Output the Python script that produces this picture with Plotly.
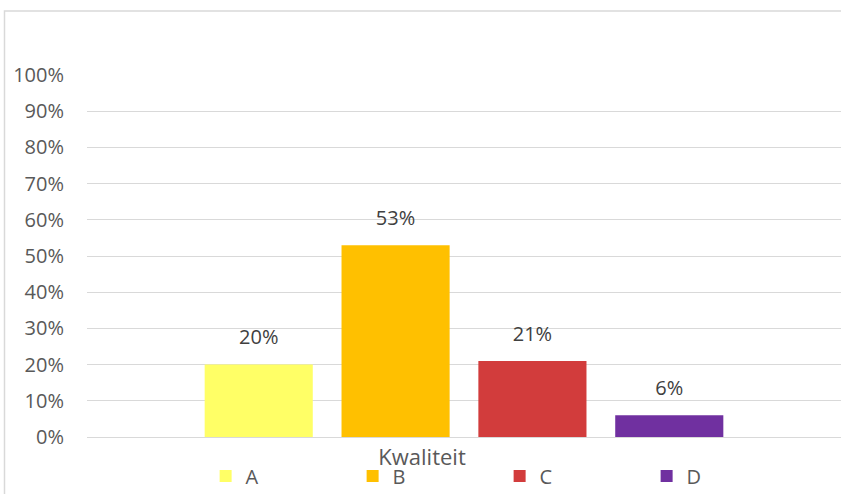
import plotly.graph_objects as go

# ---- data ----
category = ["Kwaliteit"]
series_names = ["A", "B", "C", "D"]
series_values = [0.20, 0.53, 0.21, 0.06]
series_colors = ["#FFFF66", "#FFC000", "#D23C3C", "#7030A0"]
y_ticks = [0, 0.1, 0.2, 0.3, 0.4, 0.5, 0.6, 0.7, 0.8, 0.9, 1.0]
y_tick_labels = ["0%", "10%", "20%", "30%", "40%", "50%", "60%", "70%", "80%", "90%", "100%"]

W, H = 841, 494
ML, MR, MT, MB = 87, 0, 75, 57
FONT = "Open Sans, Liberation Sans, sans-serif"
BARGAP = 0.274
LABEL_PAD = 0.07  # gap between bar top and its value label (data units)

fig = go.Figure()
for name, v, c in zip(series_names, series_values, series_colors):
    fig.add_trace(go.Bar(
        x=category, y=[v], name=name, marker=dict(color=c, line=dict(width=0)),
        offsetgroup=name, hoverinfo="skip",
    ))
for name, v in zip(series_names, series_values):
    fig.add_trace(go.Scatter(
        x=category, y=[v + LABEL_PAD], mode="text", text=[f"{round(v*100)}%"],
        textposition="middle center", offsetgroup=name, showlegend=False,
        textfont=dict(family=FONT, size=20, color="#404040"), hoverinfo="skip",
        cliponaxis=False,
    ))

# outer chart border (left and top)
pw = W - ML - MR
ph = H - MT - MB
def px_x(p):
    return (p - ML) / pw
def px_y(p):
    return (H - MB - p) / ph
fig.add_shape(type="path", xref="paper", yref="paper",
              path=f"M {px_x(4.5)} {px_y(494)} L {px_x(4.5)} {px_y(11)} L {px_x(841)} {px_y(11)}",
              line=dict(color="#D9D9D9", width=1.5))

fig.update_layout(
    width=W, height=H,
    margin=dict(l=ML, r=MR, t=MT, b=MB, autoexpand=False),
    paper_bgcolor="white", plot_bgcolor="white",
    barmode="group", bargap=BARGAP, bargroupgap=0.21,
    scattermode="group", scattergap=BARGAP,
    font=dict(family=FONT, color="#595959"),
    showlegend=True,
    legend=dict(
        orientation="h", xref="container", yref="container",
        x=0.2445, y=(H - 476) / H, xanchor="left", yanchor="middle",
        entrywidth=102, entrywidthmode="pixels",
        font=dict(family=FONT, size=20, color="#595959"),
        bgcolor="rgba(0,0,0,0)", itemclick=False, itemdoubleclick=False,
    ),
    xaxis=dict(
        showgrid=False, showline=False, zeroline=False, ticks="",
        tickfont=dict(family=FONT, size=22, color="#595959"),
        ticklabelshift=-42, ticklabelstandoff=5, fixedrange=True,
    ),
    yaxis=dict(
        range=[0, 1.0], tickvals=y_ticks, ticktext=y_tick_labels,
        showgrid=True, gridcolor="#D9D9D9", gridwidth=1.3,
        zeroline=True, zerolinecolor="#D9D9D9", zerolinewidth=1.3,
        showline=False, ticks="", ticklabelstandoff=22,
        tickfont=dict(family=FONT, size=20, color="#595959"),
        fixedrange=True,
    ),
)

fig.write_html("out.html", config={"displayModeBar": False},
               post_script="document.body.style.margin='0';document.body.style.overflow='hidden';")
